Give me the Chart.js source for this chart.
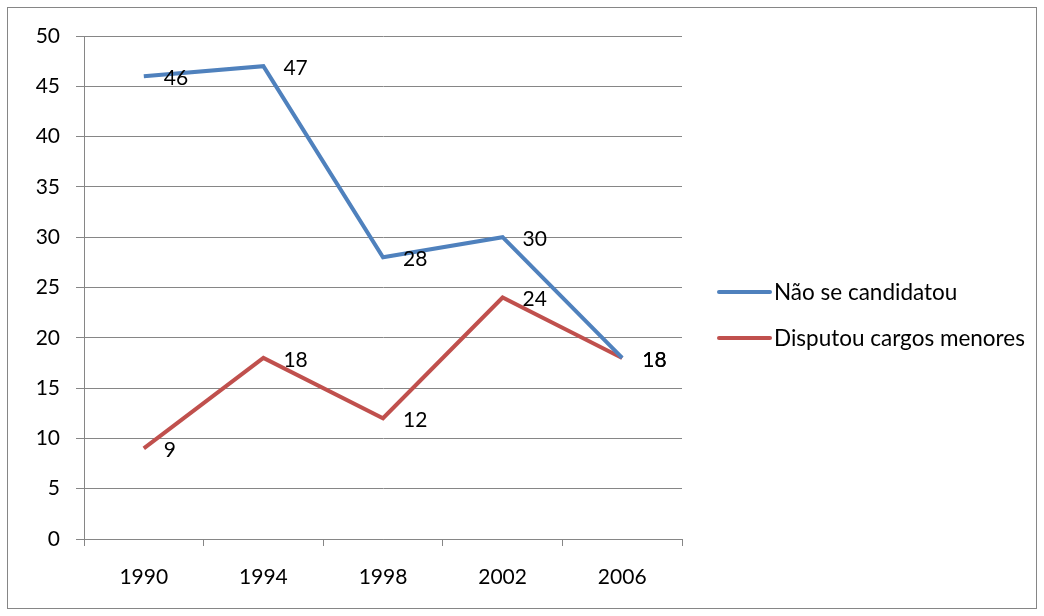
<!DOCTYPE html>
<html>
<head>
<meta charset="utf-8">
<script src="https://cdn.jsdelivr.net/npm/chart.js@4/dist/chart.umd.min.js"></script>
<style>
  html, body { margin: 0; padding: 0; background: #fff; }
  #wrap { width: 1044px; height: 616px; }
</style>
</head>
<body>
<div id="wrap"><canvas id="grafico"></canvas></div>
<script>
// Dados
const anos = ["1990", "1994", "1998", "2002", "2006"];
const naoCandidatou = [46, 47, 28, 30, 18];
const cargosMenores = [9, 18, 12, 24, 18];

const FONTE = "Lato, 'Open Sans', sans-serif";
const CINZA = "#868686";

// moldura externa
const moldura = {
  id: "moldura",
  beforeDraw(chart) {
    const c = chart.ctx;
    c.save();
    c.fillStyle = "#fff";
    c.fillRect(0, 0, chart.width, chart.height);
    c.strokeStyle = CINZA;
    c.lineWidth = 1;
    c.strokeRect(7.5, 7.5, chart.width - 15, chart.height - 15);
    c.restore();
  }
};

// rótulos de dados à direita de cada ponto
const rotulos = {
  id: "rotulos",
  afterDatasetsDraw(chart) {
    const c = chart.ctx;
    c.save();
    c.font = "21px " + FONTE;
    c.fillStyle = "#000";
    c.textAlign = "left";
    c.textBaseline = "middle";
    chart.data.datasets.forEach((ds, i) => {
      chart.getDatasetMeta(i).data.forEach((p, j) => {
        c.fillText(String(ds.data[j]), p.x + 20, p.y + 2);
      });
    });
    c.restore();
  }
};

// legenda à direita
const legenda = {
  id: "legenda",
  afterDraw(chart) {
    const c = chart.ctx;
    c.save();
    c.font = "22.5px " + FONTE;
    c.textAlign = "left";
    c.textBaseline = "middle";
    chart.data.datasets.forEach((ds, i) => {
      const y = 292 + i * 46;
      c.strokeStyle = ds.borderColor;
      c.lineWidth = 4;
      c.lineCap = "round";
      c.beginPath();
      c.moveTo(719, y);
      c.lineTo(770, y);
      c.stroke();
      c.fillStyle = "#000";
      c.fillText(ds.label, 774, y + 1);
    });
    c.restore();
  }
};

new Chart(document.getElementById("grafico"), {
  type: "line",
  data: {
    labels: anos,
    datasets: [
      { label: "Não se candidatou", data: naoCandidatou, borderColor: "#4F81BD", backgroundColor: "#4F81BD",
        borderWidth: 4, pointRadius: 0, tension: 0 },
      { label: "Disputou cargos menores", data: cargosMenores, borderColor: "#C0504D", backgroundColor: "#C0504D",
        borderWidth: 4, pointRadius: 0, tension: 0 }
    ]
  },
  options: {
    responsive: true,
    maintainAspectRatio: false,
    animation: false,
    layout: { padding: { top: 36, right: 362, left: 0, bottom: 0 } },
    plugins: { legend: { display: false }, tooltip: { enabled: false } },
    scales: {
      x: {
        offset: true,
        grid: { offset: true, drawOnChartArea: false, color: CINZA, tickLength: 7 },
        border: { color: CINZA, width: 1 },
        ticks: { font: { family: FONTE, size: 21 }, color: "#000", padding: 19, maxRotation: 0 },
        afterFit(scale) { scale.height = 77; }
      },
      y: {
        min: 0, max: 50,
        grid: { color: CINZA, tickLength: 8 },
        border: { color: CINZA, width: 1 },
        ticks: { stepSize: 5, font: { family: FONTE, size: 21 }, color: "#000", padding: 16 },
        afterFit(scale) { scale.width = 84; }
      }
    }
  },
  plugins: [moldura, rotulos, legenda]
});
</script>
</body>
</html>
